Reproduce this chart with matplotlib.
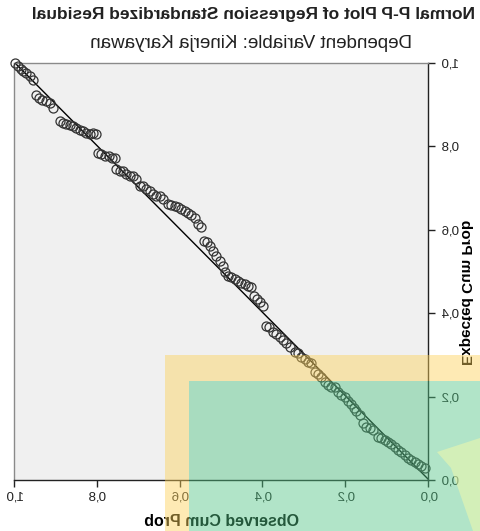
import numpy as np
import matplotlib
matplotlib.use("Agg")
from matplotlib import pyplot as plt
from matplotlib.patches import Polygon, Rectangle

plt.rcParams['font.family'] = ['Liberation Sans', 'DejaVu Sans']

# observed / expected cumulative probabilities
observed = [0.998, 0.990, 0.983, 0.978, 0.971, 0.961, 0.954, 0.947, 0.940, 0.932,
            0.923, 0.913, 0.906, 0.889, 0.882, 0.874, 0.865, 0.857, 0.850, 0.841,
            0.833, 0.826, 0.816, 0.809, 0.802, 0.797, 0.790, 0.780, 0.771, 0.763,
            0.756, 0.754, 0.744, 0.737, 0.729, 0.720, 0.713, 0.705, 0.696, 0.688,
            0.681, 0.671, 0.664, 0.657, 0.647, 0.640, 0.628, 0.621, 0.611, 0.604,
            0.597, 0.587, 0.580, 0.572, 0.563, 0.556, 0.548, 0.541, 0.534, 0.527,
            0.519, 0.512, 0.502, 0.495, 0.490, 0.483, 0.476, 0.466, 0.459, 0.452,
            0.442, 0.435, 0.428, 0.420, 0.413, 0.406, 0.399, 0.391, 0.384, 0.374,
            0.367, 0.357, 0.350, 0.343, 0.333, 0.321, 0.314, 0.307, 0.297, 0.290,
            0.283, 0.273, 0.266, 0.258, 0.249, 0.242, 0.234, 0.225, 0.217, 0.210,
            0.200, 0.193, 0.186, 0.179, 0.174, 0.164, 0.157, 0.150, 0.140, 0.133,
            0.121, 0.114, 0.104, 0.097, 0.089, 0.080, 0.072, 0.065, 0.056, 0.048,
            0.041, 0.031, 0.024, 0.017, 0.007]
expected = [1.000, 0.993, 0.986, 0.981, 0.976, 0.969, 0.959, 0.923, 0.916, 0.911,
            0.908, 0.904, 0.892, 0.860, 0.855, 0.853, 0.851, 0.848, 0.843, 0.839,
            0.836, 0.831, 0.829, 0.831, 0.829, 0.783, 0.781, 0.778, 0.776, 0.773,
            0.771, 0.747, 0.742, 0.740, 0.735, 0.730, 0.728, 0.723, 0.706, 0.704,
            0.699, 0.694, 0.687, 0.682, 0.680, 0.675, 0.663, 0.660, 0.658, 0.655,
            0.651, 0.646, 0.641, 0.636, 0.629, 0.614, 0.607, 0.573, 0.571, 0.561,
            0.549, 0.537, 0.525, 0.513, 0.499, 0.489, 0.487, 0.482, 0.477, 0.472,
            0.470, 0.465, 0.463, 0.441, 0.434, 0.427, 0.417, 0.369, 0.366, 0.354,
            0.349, 0.342, 0.335, 0.328, 0.320, 0.308, 0.304, 0.294, 0.289, 0.284,
            0.280, 0.260, 0.253, 0.246, 0.236, 0.229, 0.224, 0.222, 0.212, 0.205,
            0.198, 0.190, 0.183, 0.173, 0.166, 0.157, 0.137, 0.128, 0.125, 0.120,
            0.104, 0.101, 0.096, 0.092, 0.087, 0.080, 0.072, 0.067, 0.060, 0.053,
            0.048, 0.043, 0.039, 0.034, 0.029]
ticks = [0.0, 0.2, 0.4, 0.6, 0.8, 1.0]
tick_labels = ["0,0", "0,2", "0,4", "0,6", "0,8", "1,0"]

W, H = 481, 531
fig = plt.figure(figsize=(W / 100, H / 100), dpi=100)
fig.patch.set_facecolor("white")

# the reference is a mirrored SPSS chart: draw it normally, flip pixels at the end
ax = fig.add_axes([51 / W, 1 - 480 / H, 414 / W, 417 / H])
ax.set_facecolor("#f0f0f0")
ax.plot([0, 1], [0, 1], color="black", lw=1.0, zorder=2)
ax.plot(observed, expected, linestyle="none", marker="o", markersize=6.5,
        markerfacecolor="none", markeredgecolor="#333333", markeredgewidth=0.9,
        clip_on=False, zorder=3)
ax.set_xlim(0, 1)
ax.set_ylim(0, 1)
ax.set_xticks(ticks)
ax.set_xticklabels(tick_labels)
ax.set_yticks(ticks)
ax.set_yticklabels(tick_labels)
ax.tick_params(direction="out", length=5, width=1, colors="#222222", labelsize=9.5)
for side in ["left", "bottom"]:
    ax.spines[side].set_color("#222222")
    ax.spines[side].set_linewidth(1.0)
for side in ["right", "top"]:
    ax.spines[side].set_color("#8a8a8a")
    ax.spines[side].set_linewidth(1.0)

ax.set_xlabel("Observed Cum Prob", fontsize=11.5, fontweight="bold", labelpad=7)
ax.set_ylabel("Expected Cum Prob", fontsize=11, fontweight="bold")
ax.yaxis.set_label_coords(-0.07, 0.45)

fig.text(227 / W, 1 - 14 / H, "Normal P-P Plot of Regression Standardized Residual",
         ha="center", va="center", fontsize=12.5, fontweight="bold", color="#222222")
fig.text(229 / W, 1 - 43 / H, "Dependent Variable: Kinerja Karyawan",
         ha="center", va="center", fontsize=13.5, color="#222222")

# coloured overlay blocks sitting on the picture (unflipped figure coords)
yel = Polygon([(0, 0), (315 / W, 0), (315 / W, 1 - 355 / H), (0, 1 - 355 / H),
               (0, 1 - 381 / H), (291 / W, 1 - 381 / H), (291 / W, 0)],
              closed=True, transform=fig.transFigure, facecolor=(253 / 255, 209 / 255, 89 / 255),
              alpha=0.45, edgecolor="none", zorder=10)
fig.patches.append(yel)
grn = Rectangle((0, 0), 291 / W, 1 - 381 / H, transform=fig.transFigure,
                facecolor=(82 / 255, 196 / 255, 133 / 255), alpha=0.45,
                edgecolor="none", zorder=10)
fig.patches.append(grn)
blob = Polygon([(43 / W, 1 - 452 / H), (0, 1 - 438 / H), (0, 0), (7 / W, 0),
                (29 / W, 1 - 468 / H)], closed=True, transform=fig.transFigure,
               facecolor=(245 / 255, 250 / 255, 170 / 255), alpha=0.5,
               edgecolor="none", zorder=11)
fig.patches.append(blob)

fig.canvas.draw()
img = np.asarray(fig.canvas.buffer_rgba())[:, ::-1, :3]
plt.imsave("out.png", np.ascontiguousarray(img))
